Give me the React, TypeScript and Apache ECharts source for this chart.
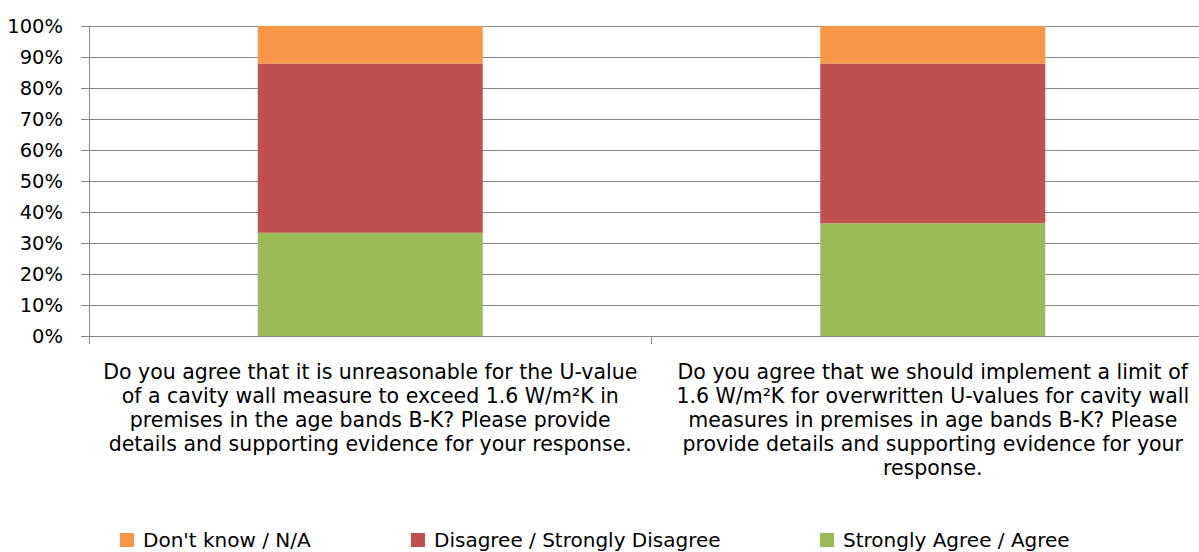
import React, { useEffect, useRef } from "react";
import * as echarts from "echarts";

// Survey questions (x-axis categories), with their line breaks
const questions = [
  "Do you agree that it is unreasonable for the U-value\nof a cavity wall measure to exceed 1.6 W/m²K in\npremises in the age bands B-K? Please provide\ndetails and supporting evidence for your response.",
  "Do you agree that we should implement a limit of\n1.6 W/m²K for overwritten U-values for cavity wall\nmeasures in premises in age bands B-K? Please\nprovide details and supporting evidence for your\nresponse.",
];

// Share of responses per question (%)
const agree = [33.3, 36.4];
const disagree = [54.6, 51.5];
const dontKnow = [12.1, 12.1];

const seriesNames = ["Strongly Agree / Agree", "Disagree / Strongly Disagree", "Don't know / N/A"];
const seriesColors = ["#9BBB59", "#C0504D", "#F79646"];

const yTicks = [0, 10, 20, 30, 40, 50, 60, 70, 80, 90, 100];

const FONT = "DejaVu Sans";

// The plot runs a little past the right edge of the visible page
const CHART_W = 1214;
const CHART_H = 552;

export default function App() {
  const ref = useRef<HTMLDivElement>(null);

  useEffect(() => {
    if (!ref.current) return;
    const chart = echarts.init(ref.current, undefined, { renderer: "svg" });
    const values = [agree, disagree, dontKnow];

    const legendPos = [
      { name: seriesNames[2], left: 120 },
      { name: seriesNames[1], left: 411 },
      { name: seriesNames[0], left: 820 },
    ];

    chart.setOption({
      animation: false,
      grid: { left: 89, right: 0, top: 26, bottom: CHART_H - 336, containLabel: false },
      legend: legendPos.map((l) => ({
        data: [l.name],
        left: l.left,
        top: 528,
        padding: 0,
        itemWidth: 14,
        itemHeight: 14,
        itemGap: 0,
        icon: "rect",
        textStyle: {
          fontFamily: FONT,
          fontSize: 20,
          lineHeight: 24,
          color: "#000",
          padding: [0, 0, 0, 4],
        },
        selectedMode: false,
      })),
      xAxis: {
        type: "category",
        data: questions,
        axisLine: { show: true, lineStyle: { color: "#868686", width: 1 } },
        axisTick: { show: true, length: 8, alignWithLabel: false, lineStyle: { color: "#868686" } },
        axisLabel: {
          interval: 0,
          margin: 24,
          color: "#000",
          fontFamily: FONT,
          fontSize: 20.5,
          lineHeight: 24,
          align: "center",
        },
      },
      yAxis: {
        type: "value",
        min: 0,
        max: 100,
        interval: 10,
        axisLine: { show: true, lineStyle: { color: "#868686", width: 1 } },
        axisTick: { show: true, length: 8, inside: false, lineStyle: { color: "#868686" } },
        splitLine: { show: true, lineStyle: { color: "#868686", width: 1 } },
        axisLabel: {
          margin: 26,
          color: "#000",
          fontFamily: FONT,
          fontSize: 19.5,
          formatter: (v: number) => (yTicks.includes(v) ? `${v}%` : ""),
        },
      },
      series: seriesNames.map((name, i) => ({
        name,
        type: "bar",
        stack: "total",
        barCategoryGap: "60%",
        itemStyle: { color: seriesColors[i] },
        data: values[i],
      })),
    });

    return () => chart.dispose();
  }, []);

  return (
    <div style={{ position: "fixed", left: 0, top: 0, width: 1199, height: CHART_H, overflow: "hidden", background: "#fff" }}>
      <div ref={ref} style={{ width: CHART_W, height: CHART_H }} />
    </div>
  );
}
